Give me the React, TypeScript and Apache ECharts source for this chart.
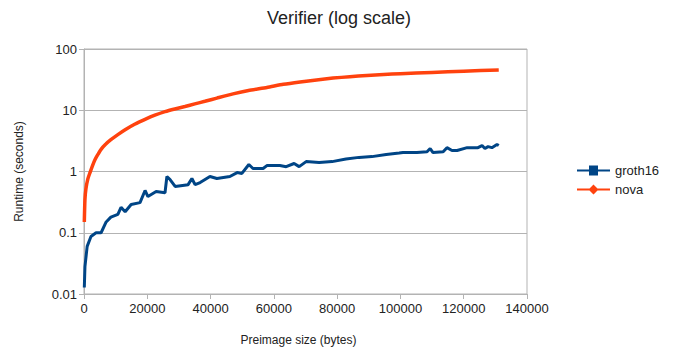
import React, { useEffect, useRef } from "react";
import * as echarts from "echarts";

const titleText = "Verifier (log scale)";
const xName = "Preimage size (bytes)";
const yName = "Runtime (seconds)";
const seriesNames = ["groth16", "nova"];

const grothX = [100, 300, 1000, 2200, 3800, 5400, 7000, 8500, 10700, 11700, 13000, 14900, 17700, 19300, 20200, 22800, 25600, 26200, 27200, 28800, 32900, 34100, 35100, 36700, 39800, 42000, 46100, 48400, 49900, 52100, 53400, 56600, 57800, 61900, 63900, 66400, 68000, 70200, 74300, 78400, 82800, 86900, 91000, 95500, 99600, 100800, 105200, 108400, 109400, 110300, 113500, 114700, 116300, 117900, 121100, 124500, 125800, 126700, 127700, 128900, 130500, 131072];
const grothY = [0.0128, 0.028, 0.06, 0.087, 0.1, 0.1, 0.15, 0.18, 0.2, 0.26, 0.22, 0.29, 0.31, 0.49, 0.39, 0.47, 0.45, 0.83, 0.74, 0.57, 0.61, 0.77, 0.61, 0.66, 0.83, 0.77, 0.83, 0.96, 0.93, 1.3, 1.12, 1.12, 1.25, 1.25, 1.2, 1.35, 1.2, 1.45, 1.4, 1.45, 1.6, 1.7, 1.75, 1.9, 2.0, 2.04, 2.04, 2.1, 2.37, 2.04, 2.1, 2.45, 2.2, 2.2, 2.45, 2.45, 2.65, 2.37, 2.55, 2.45, 2.76, 2.65];

const novaX = [100, 300, 600, 1200, 1900, 2700, 3500, 4400, 5400, 6900, 8500, 10700, 13000, 16000, 19300, 22400, 25600, 28700, 31900, 35000, 38200, 42000, 47100, 52000, 57800, 63000, 68300, 73500, 78700, 84000, 89400, 94700, 100000, 110000, 120000, 131072];
const novaY = [0.15, 0.35, 0.52, 0.75, 0.96, 1.25, 1.57, 1.9, 2.3, 2.8, 3.3, 4.0, 4.8, 5.9, 7.1, 8.3, 9.5, 10.5, 11.5, 12.7, 14, 15.8, 18.5, 21, 23.5, 26.5, 29, 31.3, 33.5, 35.3, 37, 38.3, 39.5, 41.5, 43.5, 45.5];

const yTicks = [0.01, 0.1, 1, 10, 100];

const colors = ["#004586", "#ff420e"];
const font = "'Liberation Sans', Arial, sans-serif";

export default function App() {
  const ref = useRef<HTMLDivElement>(null);
  useEffect(() => {
    if (!ref.current) return;
    const chart = echarts.init(ref.current, undefined, { renderer: "svg" });
    const grothData = grothX.map((x, i) => [x, grothY[i]]);
    const novaData = novaX.map((x, i) => [x, novaY[i]]);
    chart.setOption({
      animation: false,
      backgroundColor: "#ffffff",
      textStyle: { fontFamily: font },
      title: {
        text: titleText,
        left: "center",
        top: 4,
        padding: [5, 10, 5, 0],
        textStyle: { fontFamily: font, fontSize: 18, fontWeight: "normal", color: "#222" },
      },
      legend: {
        orient: "vertical",
        left: 572,
        top: 159,
        itemWidth: 33,
        itemHeight: 10,
        itemGap: 6,
        textStyle: { fontFamily: font, fontSize: 13, color: "#222" },
        data: [
          { name: seriesNames[0], icon: "path://M0,4h33v2h-33z M12,0h9v10h-9z" },
          { name: seriesNames[1], icon: "path://M0,4h33v2h-33z M16.5,0L21.5,5L16.5,10L11.5,5z" },
        ],
      },
      grid: {
        left: 84,
        right: 151,
        top: 49,
        bottom: 58,
        show: true,
        borderColor: "#b3b3b3",
        borderWidth: 1,
        containLabel: false,
      },
      xAxis: {
        type: "value",
        min: 0,
        max: 140000,
        interval: 20000,
        name: xName,
        nameLocation: "middle",
        nameGap: 40,
        nameTextStyle: { fontFamily: font, fontSize: 12, color: "#222", padding: [0, 14, 0, 0] },
        axisLine: { show: true, lineStyle: { color: "#b3b3b3" } },
        axisTick: { show: true, length: 5, lineStyle: { color: "#b3b3b3" } },
        axisLabel: {
          fontFamily: font,
          fontSize: 13,
          color: "#222",
          margin: 8,
          formatter: (v: number) => String(v),
        },
        splitLine: { show: false },
      },
      yAxis: {
        type: "log",
        logBase: 10,
        min: yTicks[0],
        max: yTicks[yTicks.length - 1],
        name: yName,
        nameLocation: "middle",
        nameGap: 59,
        nameTextStyle: { fontFamily: font, fontSize: 12, color: "#222" },
        axisLine: { show: true, lineStyle: { color: "#b3b3b3" } },
        axisTick: { show: true, length: 5, lineStyle: { color: "#b3b3b3" } },
        axisLabel: {
          fontFamily: font,
          fontSize: 13,
          color: "#222",
          margin: 7,
          formatter: (v: number) => {
            const t = yTicks.find((k) => Math.abs(k - v) / k < 1e-6);
            return t !== undefined ? String(t) : "";
          },
        },
        splitLine: { show: true, lineStyle: { color: "#b3b3b3", width: 1 } },
      },
      series: [
        {
          name: seriesNames[0],
          type: "line",
          data: grothData,
          showSymbol: false,
          symbol: "rect",
          color: colors[0],
          lineStyle: { width: 3, color: colors[0] },
        },
        {
          name: seriesNames[1],
          type: "line",
          data: novaData,
          showSymbol: false,
          symbol: "diamond",
          smooth: 0.2,
          color: colors[1],
          lineStyle: { width: 3.5, color: colors[1] },
        },
      ],
    });
    return () => chart.dispose();
  }, []);
  return <div ref={ref} style={{ width: 678, height: 352, position: "absolute", left: 0, top: 0 }} />;
}
